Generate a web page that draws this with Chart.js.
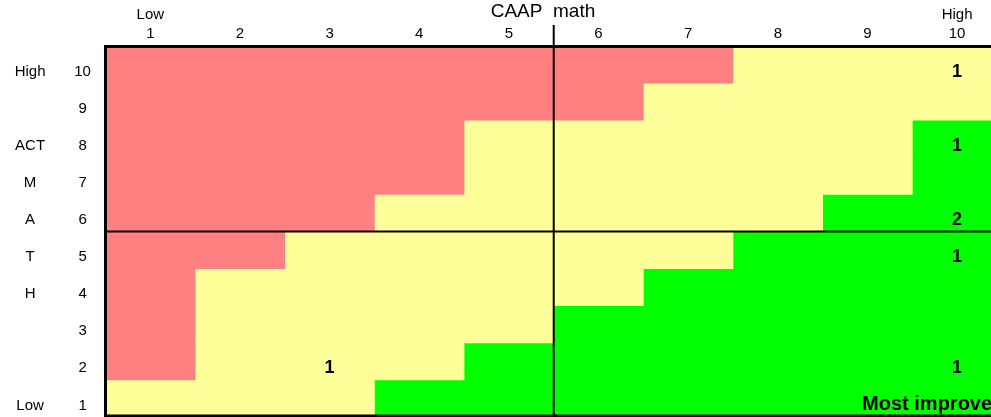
<!DOCTYPE html>
<html>
<head>
<meta charset="utf-8">
<script src="https://cdn.jsdelivr.net/npm/chart.js@4"></script>
<style>
  html, body { margin: 0; padding: 0; background: #fff; }
  #wrap { width: 991px; height: 417px; }
</style>
</head>
<body>
<div id="wrap"><canvas id="grid"></canvas></div>
<script>
// ACT math rows, top to bottom
const actRows = ['10', '9', '8', '7', '6', '5', '4', '3', '2', '1'];
const actWords = ['High', '', 'ACT', 'M', 'A', 'T', 'H', '', '', 'Low'];
// CAAP math columns
const caapCols = [1, 2, 3, 4, 5, 6, 7, 8, 9, 10];
// how many cells of each row are red (from the left) and green (from the right)
const redCells = [7, 6, 4, 4, 3, 2, 1, 1, 1, 0];
const greenCells = [0, 0, 1, 1, 2, 3, 4, 5, 6, 7];
// student counts in cells
const countCols = [10, 10, 10, 10, 3, 10];
const countRows = ['10', '8', '6', '5', '2', '2'];
const countValues = [1, 1, 2, 1, 1, 1];

const RED = '#ff8080';
const YELLOW = '#ffff99';
const GREEN = '#00ff00';

const redData = redCells.map(n => n > 0 ? [0.5, 0.5 + n] : null);
const yellowData = redCells.map((n, i) => {
    const a = 0.5 + n, b = 10.5 - greenCells[i];
    return b > a ? [a, b] : null;
});
const greenData = greenCells.map(n => n > 0 ? [10.5 - n, 10.5] : null);

// the y axes use tick padding only to place labels sideways; no extra room above/below
function fitLeftAxis(width) {
    return axis => {
        axis.width = width;
        axis.paddingTop = 0;
        axis.paddingBottom = 0;
    };
}

const overlay = {
    id: 'overlay',
    afterDraw(chart) {
        const { ctx, chartArea: area, scales: { x, y } } = chart;
        ctx.save();
        ctx.strokeStyle = '#000';

        // divider lines between 5|6 on both scales
        ctx.lineWidth = 2;
        const vx = x.getPixelForValue(5.5);
        ctx.beginPath();
        ctx.moveTo(vx, area.top - 21);
        ctx.lineTo(vx, area.bottom);
        ctx.stroke();
        const hy = (y.getPixelForValue(4) + y.getPixelForValue(5)) / 2;
        ctx.beginPath();
        ctx.moveTo(area.left, hy);
        ctx.lineTo(area.right, hy);
        ctx.stroke();

        // bottom frame
        ctx.lineWidth = 3;
        ctx.beginPath();
        ctx.moveTo(area.left - 1.5, area.bottom - 1);
        ctx.lineTo(area.right, area.bottom - 1);
        ctx.stroke();

        // counts
        ctx.fillStyle = '#000';
        ctx.font = 'bold 18px "Liberation Sans", Arial, sans-serif';
        ctx.textAlign = 'center';
        ctx.textBaseline = 'middle';
        countValues.forEach((v, i) => {
            const px = x.getPixelForValue(countCols[i]);
            const py = y.getPixelForValue(actRows.indexOf(countRows[i])) + 7;
            ctx.fillText(String(v), px, py);
        });

        // note in the bottom right
        ctx.font = 'bold 20px "Liberation Sans", Arial, sans-serif';
        ctx.textAlign = 'left';
        ctx.textBaseline = 'alphabetic';
        ctx.fillText('Most improved', x.getPixelForValue(8.94), y.getPixelForValue(9) + 11.5);
        ctx.restore();
    }
};

const tickFont = { family: '"Liberation Sans", Arial, sans-serif', size: 15, lineHeight: 1.29 };

new Chart(document.getElementById('grid'), {
    type: 'bar',
    data: {
        labels: actRows,
        datasets: [
            { label: 'red', data: redData, backgroundColor: RED },
            { label: 'yellow', data: yellowData, backgroundColor: YELLOW },
            { label: 'green', data: greenData, backgroundColor: GREEN }
        ]
    },
    options: {
        indexAxis: 'y',
        responsive: true,
        maintainAspectRatio: false,
        animation: false,
        layout: { padding: 0 },
        datasets: {
            bar: { barPercentage: 1, categoryPercentage: 1, borderWidth: 0, grouped: false }
        },
        plugins: {
            legend: { display: false },
            tooltip: { enabled: false }
        },
        scales: {
            x: {
                type: 'linear',
                position: 'top',
                min: 0.5,
                max: 10.378,
                afterBuildTicks: axis => { axis.ticks = caapCols.map(v => ({ value: v })); },
                afterFit: axis => { axis.height = 46; },
                grid: { display: false, drawTicks: false },
                border: { display: true, color: '#000', width: 3, z: 1 },
                ticks: {
                    autoSkip: false,
                    maxRotation: 0,
                    padding: 2,
                    color: '#000',
                    font: tickFont,
                    callback: v => [v === 1 ? 'Low' : v === 10 ? 'High' : '', String(v)]
                },
                title: {
                    display: true,
                    text: 'CAAP  math  ',
                    color: '#000',
                    padding: { top: 0, bottom: 0 },
                    font: { family: '"Liberation Sans", Arial, sans-serif', size: 19, lineHeight: 1.2 }
                }
            },
            y: {
                type: 'category',
                position: 'left',
                offset: true,
                weight: 0,
                afterFit: fitLeftAxis(46),
                grid: { display: false, drawTicks: false },
                border: { display: true, color: '#000', width: 3, z: 1 },
                ticks: {
                    autoSkip: false,
                    crossAlign: 'center',
                    padding: 14.6,
                    labelOffset: 7,
                    color: '#000',
                    font: tickFont
                }
            },
            yWords: {
                type: 'category',
                labels: actWords,
                position: 'left',
                offset: true,
                weight: 1,
                afterFit: fitLeftAxis(59.5),
                grid: { display: false, drawTicks: false },
                border: { display: false },
                ticks: {
                    autoSkip: false,
                    crossAlign: 'center',
                    padding: 14,
                    labelOffset: 7,
                    color: '#000',
                    font: tickFont
                }
            }
        }
    },
    plugins: [overlay]
});
</script>
</body>
</html>
